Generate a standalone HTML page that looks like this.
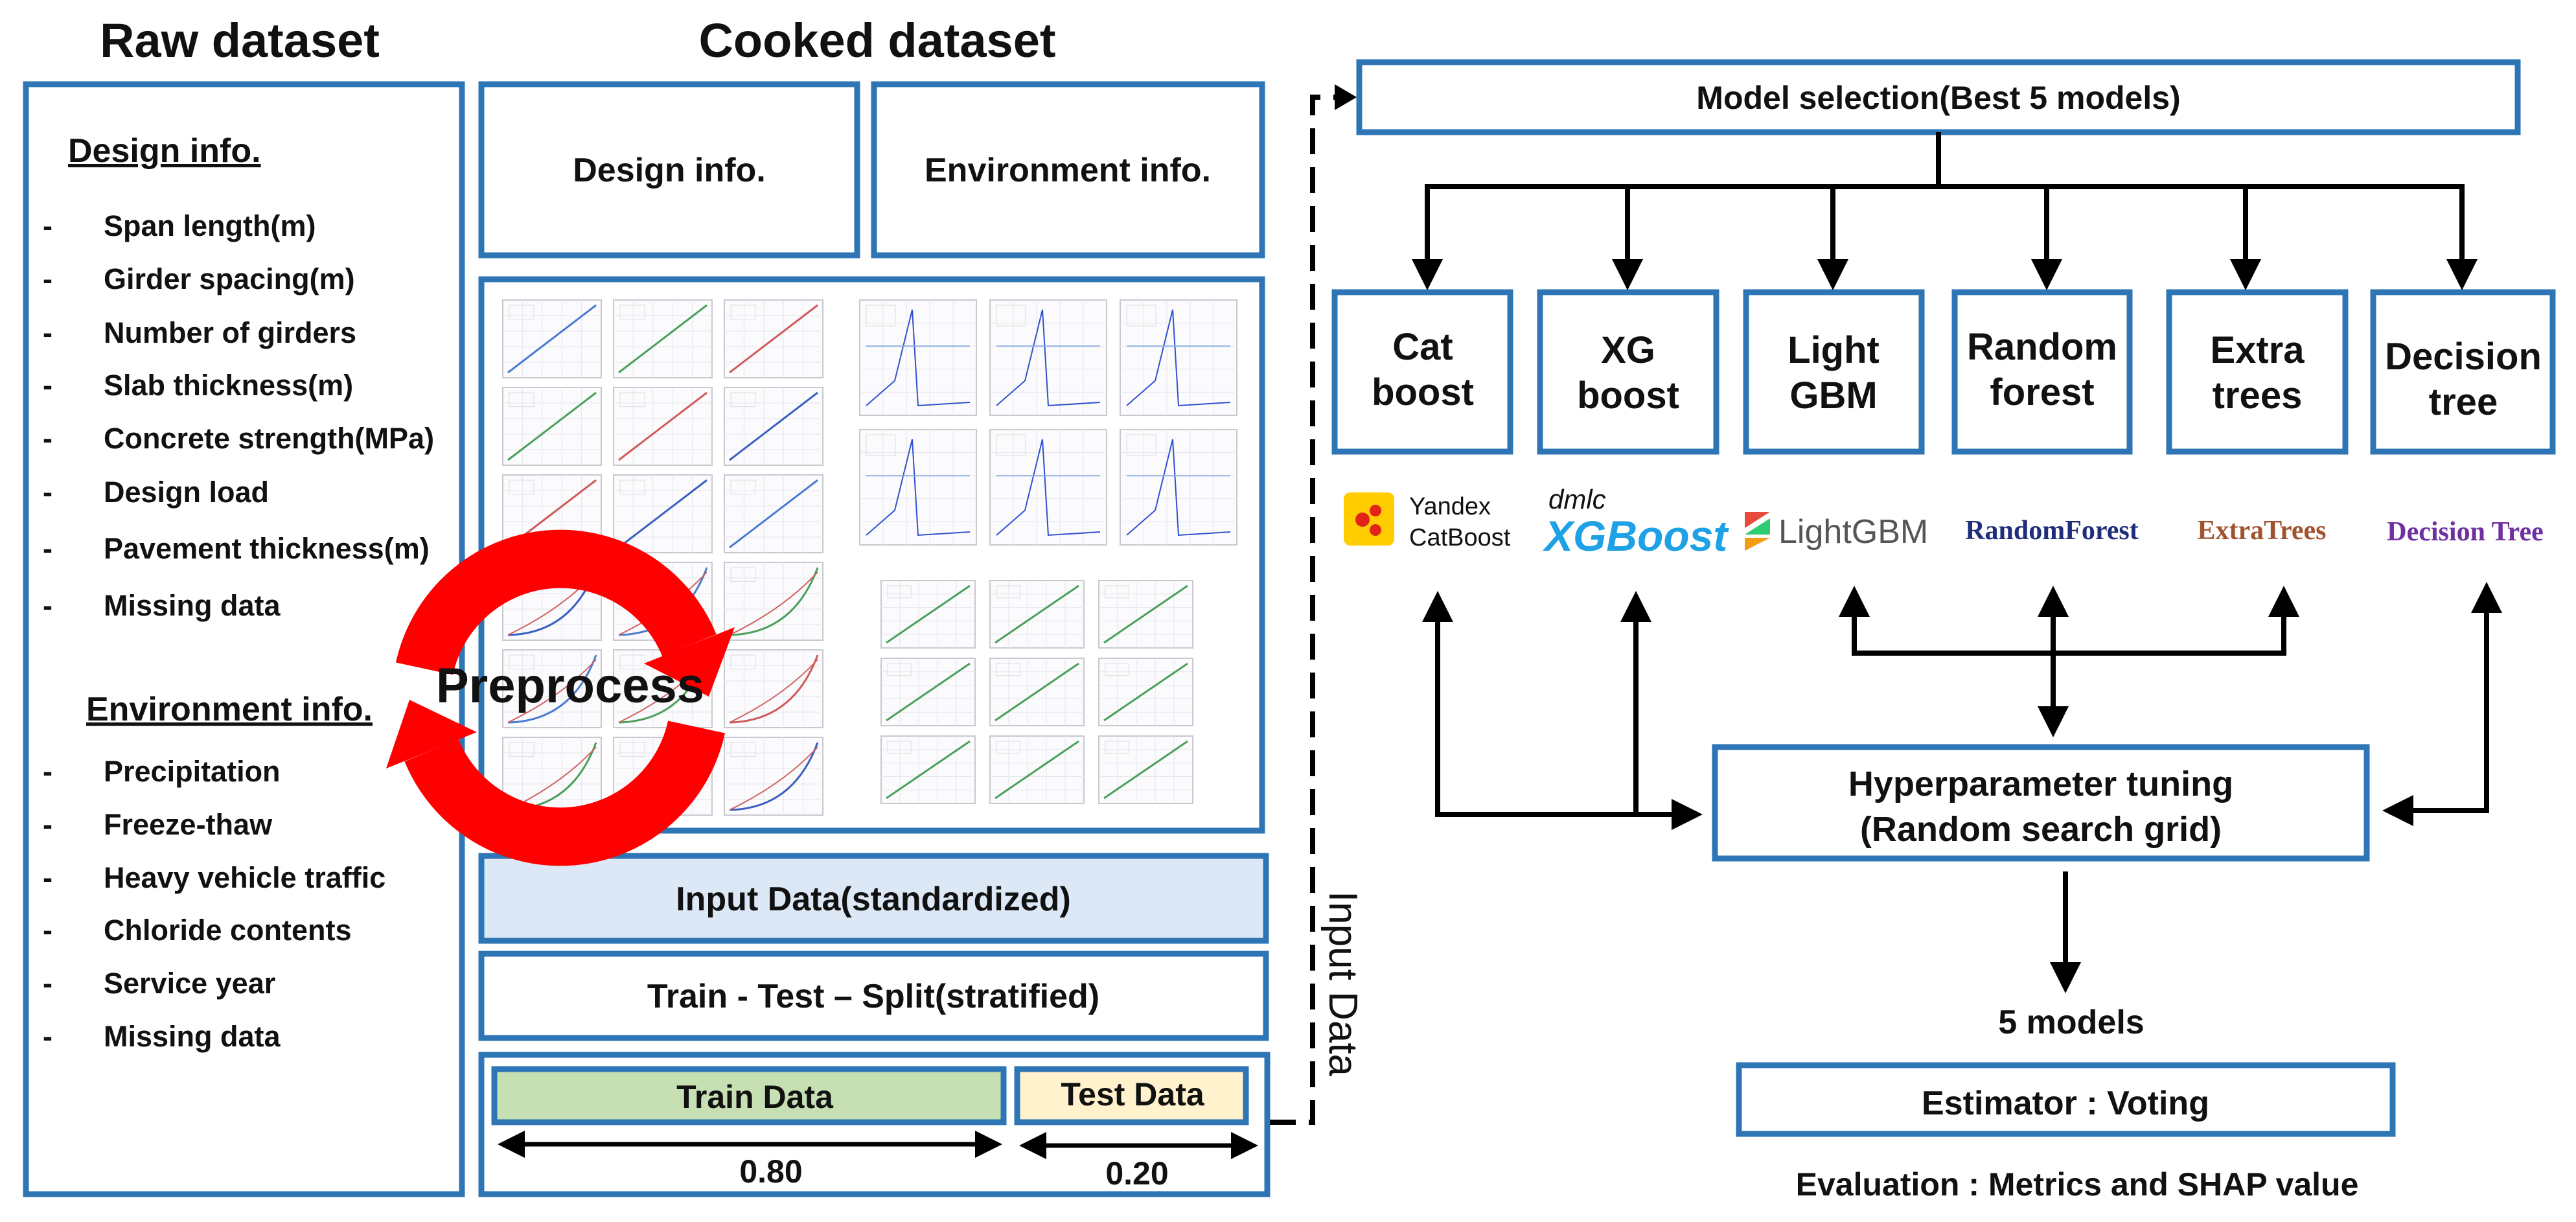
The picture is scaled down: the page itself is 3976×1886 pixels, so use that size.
<!DOCTYPE html>
<html><head><meta charset="utf-8">
<style>
html,body{margin:0;padding:0;background:#fff;}
svg{display:block;}
text{font-family:"Liberation Sans",sans-serif;font-weight:bold;fill:#111;}
.serif{font-family:"Liberation Serif",serif;}
</style></head>
<body>
<svg id="s" width="3976" height="1886" viewBox="0 0 3976 1886" xmlns="http://www.w3.org/2000/svg">
<defs>
<marker id="ah" markerWidth="6" markerHeight="6" refX="5" refY="3" orient="auto" markerUnits="strokeWidth"><path d="M0,0 L6,3 L0,6 z" fill="#000"/></marker>
<marker id="ahs" markerWidth="6" markerHeight="6" refX="1" refY="3" orient="auto" markerUnits="strokeWidth"><path d="M6,0 L0,3 L6,6 z" fill="#000"/></marker>
</defs>
<g fill="none" stroke="#2e75b6" stroke-width="9">
<rect x="40" y="130" width="673" height="1713"/>
<rect x="743" y="130" width="580" height="264"/>
<rect x="1349" y="130" width="599" height="264"/>
<rect x="743" y="431" width="1205" height="851"/>
<rect x="743" y="1321" width="1211" height="131" fill="#dce8f5"/>
<rect x="743" y="1472" width="1211" height="130"/>
<rect x="743" y="1628" width="1213" height="215"/>
<rect x="763" y="1650" width="786" height="82" fill="#c6e0b4"/>
<rect x="1570" y="1650" width="353" height="82" fill="#fff2cc"/>
<rect x="2098" y="96" width="1788" height="108"/>
<rect x="2060" y="451" width="271" height="246"/>
<rect x="2377" y="451" width="272" height="246"/>
<rect x="2695" y="451" width="271" height="246"/>
<rect x="3017" y="451" width="270" height="246"/>
<rect x="3348" y="451" width="272" height="246"/>
<rect x="3663" y="451" width="277" height="246"/>
<rect x="2647" y="1153" width="1006" height="172"/>
<rect x="2684" y="1644" width="1009" height="106"/>
</g>
<g id="thumbs"></g>

<text x="370" y="88" font-size="74" text-anchor="middle">Raw dataset</text>
<text x="1354" y="88" font-size="74" text-anchor="middle">Cooked dataset</text>

<text x="105" y="250" font-size="52" text-decoration="underline">Design info.</text>
<g font-size="45">
<text x="66" y="364">-</text><text x="160" y="364">Span length(m)</text>
<text x="66" y="446">-</text><text x="160" y="446">Girder spacing(m)</text>
<text x="66" y="529">-</text><text x="160" y="529">Number of girders</text>
<text x="66" y="610">-</text><text x="160" y="610">Slab thickness(m)</text>
<text x="66" y="692">-</text><text x="160" y="692">Concrete strength(MPa)</text>
<text x="66" y="775">-</text><text x="160" y="775">Design load</text>
<text x="66" y="862">-</text><text x="160" y="862">Pavement thickness(m)</text>
<text x="66" y="950">-</text><text x="160" y="950">Missing data</text>
<text x="66" y="1206">-</text><text x="160" y="1206">Precipitation</text>
<text x="66" y="1288">-</text><text x="160" y="1288">Freeze-thaw</text>
<text x="66" y="1370">-</text><text x="160" y="1370">Heavy vehicle traffic</text>
<text x="66" y="1451">-</text><text x="160" y="1451">Chloride contents</text>
<text x="66" y="1533">-</text><text x="160" y="1533">Service year</text>
<text x="66" y="1615">-</text><text x="160" y="1615">Missing data</text>
</g>
<text x="133" y="1112" font-size="52" text-decoration="underline">Environment info.</text>

<text x="1033" y="280" font-size="52" text-anchor="middle">Design info.</text>
<text x="1648" y="280" font-size="52" text-anchor="middle">Environment info.</text>
<text x="1348" y="1405" font-size="52" text-anchor="middle">Input Data(standardized)</text>
<text x="1348" y="1555" font-size="52" text-anchor="middle">Train - Test – Split(stratified)</text>
<text x="1165" y="1710" font-size="50" text-anchor="middle">Train Data</text>
<text x="1748" y="1706" font-size="50" text-anchor="middle">Test Data</text>
<line x1="775" y1="1766" x2="1540" y2="1766" stroke="#000" stroke-width="7" marker-end="url(#ah)" marker-start="url(#ahs)"/>
<text x="1190" y="1825" font-size="50" text-anchor="middle">0.80</text>
<line x1="1580" y1="1768" x2="1935" y2="1768" stroke="#000" stroke-width="7" marker-end="url(#ah)" marker-start="url(#ahs)"/>
<text x="1755" y="1828" font-size="50" text-anchor="middle">0.20</text>

<g fill="#ff0000" stroke="none">
<path d="M655 1032 A215 215 0 0 1 1064 996" fill="none" stroke="#ff0000" stroke-width="90"/>
<polygon points="1134,968 994,1024 1094,1075"/>
<path d="M1075 1122 A215 215 0 0 1 666 1158" fill="none" stroke="#ff0000" stroke-width="90"/>
<polygon points="596,1186 736,1130 632,1080"/>
</g>
<text x="880" y="1084" font-size="76" text-anchor="middle">Preprocess</text>

<path d="M1960 1732 L2026 1732 L2026 150 L2060 150" fill="none" stroke="#000" stroke-width="8" stroke-dasharray="40 20"/>
<polygon points="2060,130 2094,150 2060,170" fill="#000"/>
<text transform="translate(2052,1518) rotate(90)" font-size="62" text-anchor="middle" style="font-weight:normal">Input Data</text>

<text x="2992" y="168" font-size="50" text-anchor="middle">Model selection(Best 5 models)</text>
<g stroke="#000" stroke-width="8" fill="none">
<line x1="2992" y1="204" x2="2992" y2="288"/>
<line x1="2199" y1="288" x2="3804" y2="288"/>
</g>
<g stroke="#000" stroke-width="8" marker-end="url(#ah)">
<line x1="2203" y1="288" x2="2203" y2="440"/>
<line x1="2512" y1="288" x2="2512" y2="440"/>
<line x1="2829" y1="288" x2="2829" y2="440"/>
<line x1="3159" y1="288" x2="3159" y2="440"/>
<line x1="3466" y1="288" x2="3466" y2="440"/>
<line x1="3800" y1="284" x2="3800" y2="440"/>
</g>
<g font-size="58" text-anchor="middle">
<text x="2196" y="555">Cat</text><text x="2196" y="625">boost</text>
<text x="2513" y="560">XG</text><text x="2513" y="630">boost</text>
<text x="2830" y="560">Light</text><text x="2830" y="630">GBM</text>
<text x="3152" y="555">Random</text><text x="3152" y="625">forest</text>
<text x="3484" y="560">Extra</text><text x="3484" y="630">trees</text>
<text x="3802" y="570">Decision</text><text x="3802" y="640">tree</text>
</g>
<rect x="2074" y="760" width="78" height="82" rx="10" fill="#ffcc00"/>
<circle cx="2103" cy="802" r="11" fill="#e2231a"/><circle cx="2123" cy="788" r="9" fill="#e2231a"/><circle cx="2123" cy="818" r="9" fill="#e2231a"/>
<text x="2175" y="794" font-size="38" style="font-weight:normal" fill="#333">Yandex</text>
<text x="2175" y="842" font-size="38" style="font-weight:normal" fill="#333">CatBoost</text>
<text x="2390" y="785" font-size="42" font-style="italic" style="font-weight:normal" fill="#666">dmlc</text>
<text x="2384" y="850" font-size="66" font-style="italic" style="fill:#1ea1e5">XGBoost</text>
<polygon points="2693,790 2732,790 2693,815" fill="#e84b3c"/><polygon points="2732,800 2693,825 2732,825" fill="#2ecc71"/><polygon points="2693,830 2732,830 2693,850" fill="#f39c12"/>
<text x="2745" y="838" font-size="52" style="font-weight:normal;fill:#555">LightGBM</text>
<text class="serif" x="3167" y="832" font-size="42" text-anchor="middle" style="fill:#1f2d7a">RandomForest</text>
<text class="serif" x="3491" y="832" font-size="42" text-anchor="middle" style="fill:#a0522d">ExtraTrees</text>
<text class="serif" x="3805" y="834" font-size="42" text-anchor="middle" style="fill:#7030a0">Decision Tree</text>

<g stroke="#000" stroke-width="8" fill="none">
<line x1="2219" y1="1257" x2="2219" y2="920" marker-end="url(#ah)"/>
<line x1="2525" y1="1257" x2="2525" y2="920" marker-end="url(#ah)"/>
<line x1="2215" y1="1257" x2="2620" y2="1257" marker-end="url(#ah)"/>
<line x1="2862" y1="1008" x2="2862" y2="912" marker-end="url(#ah)"/>
<line x1="3169" y1="1008" x2="3169" y2="912" marker-end="url(#ah)"/>
<line x1="3525" y1="1008" x2="3525" y2="912" marker-end="url(#ah)"/>
<line x1="2858" y1="1008" x2="3529" y2="1008"/>
<line x1="3169" y1="1008" x2="3169" y2="1130" marker-end="url(#ah)"/>
<line x1="3838" y1="906" x2="3838" y2="1251" marker-start="url(#ahs)"/>
<line x1="3842" y1="1251" x2="3685" y2="1251" marker-end="url(#ah)"/>
<line x1="3188" y1="1345" x2="3188" y2="1525" marker-end="url(#ah)"/>
</g>
<text x="3150" y="1228" font-size="54" text-anchor="middle">Hyperparameter tuning</text>
<text x="3150" y="1298" font-size="54" text-anchor="middle">(Random search grid)</text>
<text x="3197" y="1595" font-size="52" text-anchor="middle">5 models</text>
<text x="3188" y="1720" font-size="52" text-anchor="middle">Estimator : Voting</text>
<text x="3206" y="1845" font-size="50" text-anchor="middle">Evaluation : Metrics and SHAP value</text>
</svg>
<script>
(function(){
var g=document.getElementById('thumbs'),h='';
var cols=['#4a7bd0','#4aa05a','#d05a5a','#3a5fc0'];
function th(x,y,w,hh,k,t){
 h+='<rect x="'+x+'" y="'+y+'" width="'+w+'" height="'+hh+'" fill="#fbfbfd" stroke="#c8c8d0" stroke-width="2"/>';
 for(var i=1;i<5;i++){h+='<line x1="'+(x+w*i/5)+'" y1="'+y+'" x2="'+(x+w*i/5)+'" y2="'+(y+hh)+'" stroke="#e6e6ec" stroke-width="1"/>';
 h+='<line x1="'+x+'" y1="'+(y+hh*i/5)+'" x2="'+(x+w)+'" y2="'+(y+hh*i/5)+'" stroke="#e6e6ec" stroke-width="1"/>';}
 var c=cols[k%4];
 if(t==0){h+='<line x1="'+(x+8)+'" y1="'+(y+hh-8)+'" x2="'+(x+w-8)+'" y2="'+(y+8)+'" stroke="'+c+'" stroke-width="3"/>';}
 else if(t==1){h+='<path d="M'+(x+8)+' '+(y+hh-8)+' Q'+(x+w*0.7)+' '+(y+hh-10)+' '+(x+w-8)+' '+(y+8)+'" fill="none" stroke="'+c+'" stroke-width="3"/><path d="M'+(x+8)+' '+(y+hh-8)+' Q'+(x+w*0.6)+' '+(y+hh*0.6)+' '+(x+w-8)+' '+(y+15)+'" fill="none" stroke="#d06060" stroke-width="2"/>';}
 else {h+='<polyline points="'+(x+10)+','+(y+hh-15)+' '+(x+w*0.3)+','+(y+hh*0.7)+' '+(x+w*0.45)+','+(y+15)+' '+(x+w*0.5)+','+(y+hh-15)+' '+(x+w-10)+','+(y+hh-20)+'" fill="none" stroke="#3050d0" stroke-width="2"/><line x1="'+(x+10)+'" y1="'+(y+hh*0.4)+'" x2="'+(x+w-10)+'" y2="'+(y+hh*0.4)+'" stroke="#90b0e0" stroke-width="2"/>';}
 h+='<rect x="'+(x+10)+'" y="'+(y+8)+'" width="'+(w*0.25)+'" height="'+(hh*0.18)+'" fill="none" stroke="#ddd" stroke-width="1"/>';
}
for(var r=0;r<6;r++)for(var c=0;c<3;c++)th(776+c*171,463+r*135,152,120,r+c,r<3?0:1);
for(var r=0;r<2;r++)for(var c=0;c<3;c++)th(1327+c*201,463+r*200,180,178,c,2);
for(var r=0;r<3;r++)for(var c=0;c<3;c++)th(1360+c*168,896+r*120,145,104,1,0);
g.innerHTML=h;
})();
</script>
</body></html>
